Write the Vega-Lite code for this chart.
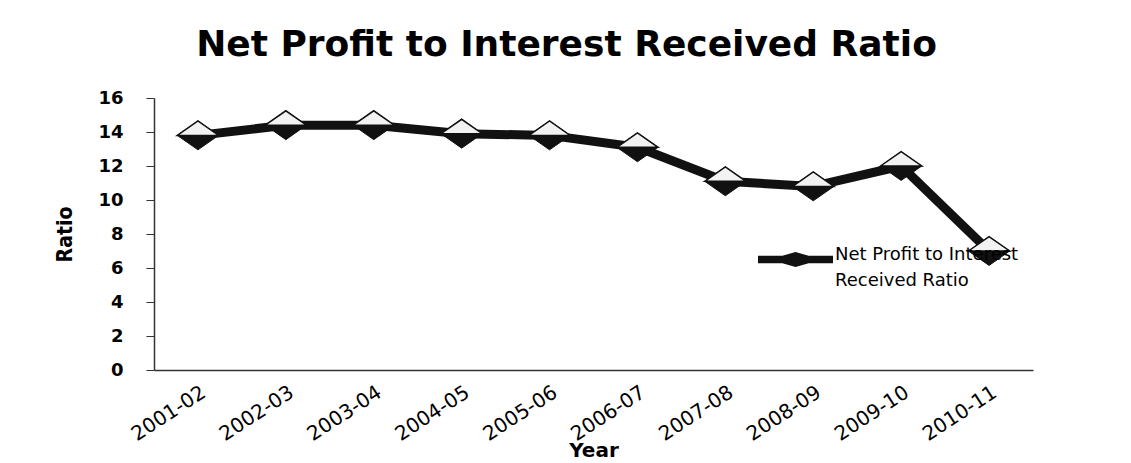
{
  "$schema": "https://vega.github.io/schema/vega-lite/v6.json",
  "autosize": "none",
  "width": 879,
  "height": 272,
  "padding": {"left": 154, "top": 98, "right": 98, "bottom": 93},
  "background": "white",
  "title": {
    "text": "Net Profit to Interest Received Ratio",
    "font": "DejaVu Sans",
    "fontSize": 36,
    "fontWeight": "bold",
    "color": "#000000",
    "anchor": "middle",
    "dx": -27,
    "offset": 25
  },
  "data": {
    "values": [
      {"year": "2001-02", "ratio": 13.8, "series": "Net Profit to Interest Received Ratio"},
      {"year": "2002-03", "ratio": 14.4, "series": "Net Profit to Interest Received Ratio"},
      {"year": "2003-04", "ratio": 14.4, "series": "Net Profit to Interest Received Ratio"},
      {"year": "2004-05", "ratio": 13.9, "series": "Net Profit to Interest Received Ratio"},
      {"year": "2005-06", "ratio": 13.8, "series": "Net Profit to Interest Received Ratio"},
      {"year": "2006-07", "ratio": 13.1, "series": "Net Profit to Interest Received Ratio"},
      {"year": "2007-08", "ratio": 11.1, "series": "Net Profit to Interest Received Ratio"},
      {"year": "2008-09", "ratio": 10.8, "series": "Net Profit to Interest Received Ratio"},
      {"year": "2009-10", "ratio": 12.0, "series": "Net Profit to Interest Received Ratio"},
      {"year": "2010-11", "ratio": 7.0, "series": "Net Profit to Interest Received Ratio"}
    ]
  },
  "encoding": {
    "x": {
      "field": "year",
      "type": "ordinal",
      "scale": {"type": "point", "padding": 0.5},
      "axis": {
        "title": "Year",
        "titleFont": "DejaVu Sans",
        "titleFontSize": 20,
        "titleFontWeight": "bold",
        "titleColor": "#000000",
        "titleY": 86,
        "titleBaseline": "alphabetic",
        "labelAngle": -33,
        "labelFont": "DejaVu Sans",
        "labelFontSize": 20,
        "labelColor": "#000000",
        "labelPadding": 12,
        "ticks": false,
        "domainColor": "#333333",
        "domainWidth": 1.5,
        "grid": false
      }
    },
    "y": {
      "field": "ratio",
      "type": "quantitative",
      "scale": {"domain": [0, 16], "nice": false, "zero": true},
      "axis": {
        "title": "Ratio",
        "titleFont": "DejaVu Sans Condensed",
        "titleFontSize": 21,
        "titleFontWeight": "bold",
        "titleColor": "#000000",
        "titlePadding": 22,
        "values": [0, 2, 4, 6, 8, 10, 12, 14, 16],
        "labelFont": "DejaVu Sans",
        "labelFontSize": 18,
        "labelFontWeight": "bold",
        "labelColor": "#000000",
        "labelPadding": 23,
        "tickSize": 8,
        "tickColor": "#333333",
        "domainColor": "#333333",
        "domainWidth": 1.5,
        "grid": false
      }
    }
  },
  "layer": [
    {
      "mark": {"type": "line", "strokeWidth": 9, "strokeCap": "butt", "strokeJoin": "round"},
      "encoding": {
        "color": {
          "field": "series",
          "type": "nominal",
          "scale": {"range": ["#111111"]},
          "legend": {
            "title": null,
            "orient": "none",
            "legendX": 604,
            "legendY": 124,
            "padding": 0,
            "symbolType": "M-1,-0.1L-0.35,-0.1L0,-0.2L0.35,-0.1L1,-0.1L1,0.1L0.35,0.1L0,0.2L-0.35,0.1L-1,0.1Z",
            "symbolSize": 5625,
            "symbolFillColor": "#111111",
            "symbolStrokeColor": "#111111",
            "symbolStrokeWidth": 0,
            "labelFont": "DejaVu Sans",
            "labelFontSize": 18,
            "labelColor": "#000000",
            "labelOffset": 2,
            "labelLimit": 400,
            "labelBaseline": "alphabetic",
            "labelExpr": "['Net Profit to Interest', 'Received Ratio']"
          }
        }
      }
    },
    {
      "mark": {
        "type": "point",
        "shape": "M-1,0L0,-0.7L1,0L0,0.7Z",
        "size": 1700,
        "filled": true,
        "fill": "#111111",
        "stroke": "#111111",
        "strokeWidth": 1,
        "opacity": 1
      }
    },
    {
      "mark": {
        "type": "point",
        "shape": "M-1,0L0,-0.7L1,0Z",
        "size": 1700,
        "filled": true,
        "fill": "#f2f2f2",
        "stroke": "#111111",
        "strokeWidth": 1.5,
        "opacity": 1
      }
    }
  ],
  "config": {
    "view": {"stroke": null},
    "style": {"guide-label": {"lineHeight": 26}}
  }
}
